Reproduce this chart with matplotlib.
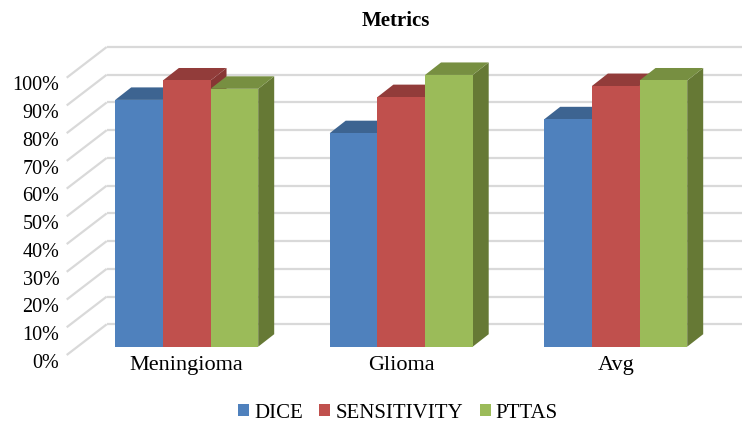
import matplotlib
matplotlib.use("Agg")
import matplotlib.pyplot as plt
from matplotlib.patches import Polygon, Patch
from matplotlib.transforms import ScaledTranslation

# ---- data -------------------------------------------------------------
categories = ["Meningioma", "Glioma", "Avg"]
series_names = ["DICE", "SENSITIVITY", "PTTAS"]
dice = [89, 77, 82]
sensitivity = [96, 90, 94]
pttas = [93, 98, 96]
series_values = [dice, sensitivity, pttas]

y_ticks = [0, 10, 20, 30, 40, 50, 60, 70, 80, 90, 100]
y_tick_labels = [f"{t}%" for t in y_ticks]

# ---- style ------------------------------------------------------------
front_colors = ["#4f81bd", "#c0504d", "#9bbb59"]
top_colors = ["#3d6491", "#923c3a", "#778f41"]
side_colors = ["#385c87", "#873634", "#667935"]
grid_color = "#d9d9d9"

plt.rcParams["font.family"] = ["Liberation Serif", "DejaVu Serif"]
FS_Y = 14.5
FS_X = 16
FS_LEGEND = 15
FS_TITLE = 15

# ---- layout (pixels) ----------------------------------------------------
FIG_W, FIG_H, DPI = 742, 424, 100
PX_LEFT, PX_RIGHT = 66.7, 742.0      # front edge of floor .. right edge
PX_BASE = 346.7                       # 0% on the bars' front plane
PX_PER_PCT = 2.773
PX_CAT0, PX_PER_CAT = 186.7, 214.5
Y_TOP = 110

BAR_DEPTH_PX = (16.0, 12.5)           # oblique depth of each bar
WALL_X_PX = 106.7                     # left end of back wall
WALL_UP_PX = 22.4                     # back wall raised above bar plane
FLOOR_DOWN_PX = 8.3                   # floor front edge below bar plane

fig = plt.figure(figsize=(FIG_W / DPI, FIG_H / DPI), dpi=DPI)
ax = fig.add_axes([PX_LEFT / FIG_W,
                   (FIG_H - PX_BASE) / FIG_H,
                   (PX_RIGHT - PX_LEFT) / FIG_W,
                   Y_TOP * PX_PER_PCT / FIG_H])
x_min = (PX_LEFT - PX_CAT0) / PX_PER_CAT
x_max = (PX_RIGHT - PX_CAT0) / PX_PER_CAT
ax.set_xlim(x_min, x_max)
ax.set_ylim(0, Y_TOP)


def dx(px):
    return px / PX_PER_CAT


def dy(px):
    return px / PX_PER_PCT


bar_w = 1 / 4.5
ddx, ddy = dx(BAR_DEPTH_PX[0]), dy(BAR_DEPTH_PX[1])
wall_x0 = (WALL_X_PX - PX_CAT0) / PX_PER_CAT

# back wall gridlines and their slanted returns to the floor front
for v in y_ticks:
    ax.plot([wall_x0, x_max], [v + dy(WALL_UP_PX)] * 2,
            color=grid_color, lw=1.6, zorder=1, solid_capstyle="butt")
    ax.plot([x_min, wall_x0], [v - dy(FLOOR_DOWN_PX), v + dy(WALL_UP_PX)],
            color=grid_color, lw=1.6, zorder=1, clip_on=False,
            solid_capstyle="butt")

# 3-D style bars: front face, top face, right side face
x_idx = list(range(len(categories)))
for j, (vals, name) in enumerate(zip(series_values, series_names)):
    offset = (j - 1) * bar_w
    xs = [i + offset for i in x_idx]
    z = 2 + j
    ax.bar(xs, vals, width=bar_w, color=front_colors[j], zorder=z + 0.5,
           edgecolor="none", label=name)
    for xc, v in zip(xs, vals):
        x0, x1 = xc - bar_w / 2, xc + bar_w / 2
        top = Polygon([(x0, v), (x1, v), (x1 + ddx, v + ddy), (x0 + ddx, v + ddy)],
                      closed=True, facecolor=top_colors[j], edgecolor="none",
                      zorder=z + 0.2)
        side = Polygon([(x1, 0), (x1 + ddx, ddy), (x1 + ddx, v + ddy), (x1, v)],
                       closed=True, facecolor=side_colors[j], edgecolor="none",
                       zorder=z + 0.1)
        ax.add_patch(side)
        ax.add_patch(top)

# axes decoration
for s in ax.spines.values():
    s.set_visible(False)
ax.set_yticks(y_ticks, y_tick_labels)
ax.set_xticks(x_idx, categories)
ax.tick_params(axis="y", length=0, pad=5.3, labelsize=FS_Y, colors="black")
ax.tick_params(axis="x", length=0, pad=7, labelsize=FS_X, colors="black")
shift = ScaledTranslation(0, -14 / DPI, fig.dpi_scale_trans)
for lab in ax.get_yticklabels():
    lab.set_transform(lab.get_transform() + shift)

fig.text(396 / FIG_W, 1 - 21.5 / FIG_H, "Metrics", ha="center", va="center",
         fontsize=FS_TITLE, fontweight="bold")

handles = [Patch(facecolor=c, edgecolor="none") for c in front_colors]
fig.legend(handles, series_names, loc="center",
           bbox_to_anchor=(398 / FIG_W, 11 / FIG_H), ncol=3, frameon=False,
           fontsize=FS_LEGEND, handlelength=0.52, handleheight=0.52,
           handletextpad=0.25, columnspacing=0.8, borderpad=0, borderaxespad=0)

fig.savefig("out.png", dpi=DPI)
